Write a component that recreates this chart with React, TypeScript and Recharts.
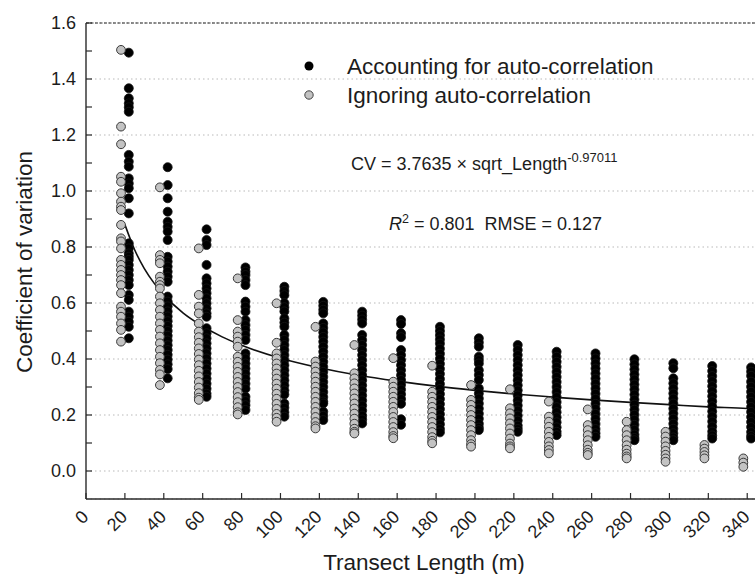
import React from 'react';
import {
  ComposedChart,
  Scatter,
  Line,
  XAxis,
  YAxis,
  CartesianGrid,
  ReferenceLine,
} from 'recharts';

// ---------- data ----------
const lengths = [20, 40, 60, 80, 100, 120, 140, 160, 180, 200, 220, 240, 260, 280, 300, 320, 340];

// Coefficient of variation, accounting for auto-correlation (black)
const accounting: number[][] = [
  [1.494, 1.367, 1.331, 1.313, 1.299, 1.283, 1.129, 1.105, 1.087, 1.045, 1.027, 1.010, 0.974, 0.920, 0.813, 0.795, 0.777, 0.765, 0.754, 0.736, 0.718, 0.700, 0.682, 0.664, 0.629, 0.611, 0.569, 0.551, 0.533, 0.515, 0.474],
  [1.085, 1.021, 0.974, 0.926, 0.890, 0.872, 0.855, 0.825, 0.765, 0.748, 0.730, 0.712, 0.694, 0.676, 0.623, 0.605, 0.588, 0.570, 0.552, 0.535, 0.518, 0.500, 0.483, 0.466, 0.449, 0.432, 0.415, 0.398, 0.381, 0.364, 0.331],
  [0.863, 0.825, 0.807, 0.736, 0.688, 0.670, 0.652, 0.635, 0.617, 0.599, 0.581, 0.563, 0.551, 0.510, 0.492, 0.474, 0.456, 0.438, 0.420, 0.402, 0.384, 0.366, 0.348, 0.330, 0.312, 0.294, 0.276, 0.265],
  [0.727, 0.712, 0.700, 0.682, 0.664, 0.605, 0.587, 0.569, 0.539, 0.521, 0.504, 0.486, 0.468, 0.420, 0.402, 0.384, 0.366, 0.348, 0.330, 0.312, 0.294, 0.265, 0.250, 0.235, 0.218],
  [0.658, 0.643, 0.628, 0.600, 0.585, 0.570, 0.545, 0.530, 0.515, 0.486, 0.468, 0.450, 0.432, 0.414, 0.396, 0.378, 0.360, 0.342, 0.324, 0.306, 0.288, 0.273, 0.241, 0.226, 0.210, 0.194],
  [0.604, 0.590, 0.576, 0.563, 0.527, 0.511, 0.495, 0.479, 0.462, 0.444, 0.426, 0.408, 0.390, 0.372, 0.354, 0.336, 0.318, 0.300, 0.282, 0.264, 0.248, 0.241, 0.212, 0.197, 0.182],
  [0.569, 0.555, 0.541, 0.527, 0.486, 0.468, 0.450, 0.432, 0.414, 0.396, 0.378, 0.360, 0.342, 0.324, 0.306, 0.288, 0.270, 0.252, 0.234, 0.216, 0.198, 0.184, 0.170],
  [0.539, 0.525, 0.492, 0.478, 0.432, 0.414, 0.396, 0.378, 0.360, 0.342, 0.325, 0.308, 0.291, 0.274, 0.257, 0.240, 0.185, 0.165],
  [0.515, 0.500, 0.485, 0.470, 0.455, 0.437, 0.419, 0.401, 0.383, 0.365, 0.347, 0.329, 0.311, 0.293, 0.275, 0.257, 0.239, 0.221, 0.203, 0.185, 0.167, 0.150, 0.138],
  [0.474, 0.459, 0.444, 0.408, 0.396, 0.384, 0.360, 0.343, 0.325, 0.295, 0.277, 0.259, 0.241, 0.223, 0.205, 0.187, 0.169, 0.155, 0.146],
  [0.450, 0.432, 0.414, 0.396, 0.378, 0.360, 0.342, 0.324, 0.306, 0.288, 0.270, 0.252, 0.234, 0.216, 0.198, 0.180, 0.162, 0.150, 0.140],
  [0.426, 0.408, 0.390, 0.372, 0.354, 0.336, 0.318, 0.300, 0.282, 0.264, 0.246, 0.228, 0.210, 0.192, 0.174, 0.156, 0.140, 0.128],
  [0.420, 0.402, 0.384, 0.366, 0.348, 0.330, 0.312, 0.294, 0.276, 0.258, 0.240, 0.222, 0.204, 0.186, 0.168, 0.150, 0.135, 0.122],
  [0.399, 0.381, 0.363, 0.345, 0.327, 0.309, 0.291, 0.273, 0.255, 0.237, 0.219, 0.201, 0.183, 0.165, 0.147, 0.130, 0.118, 0.110],
  [0.385, 0.367, 0.331, 0.313, 0.295, 0.277, 0.259, 0.241, 0.223, 0.205, 0.187, 0.169, 0.151, 0.135, 0.120, 0.110],
  [0.375, 0.357, 0.339, 0.321, 0.303, 0.285, 0.267, 0.249, 0.231, 0.213, 0.195, 0.177, 0.159, 0.141, 0.127, 0.116],
  [0.370, 0.355, 0.340, 0.319, 0.301, 0.283, 0.265, 0.247, 0.229, 0.211, 0.193, 0.175, 0.157, 0.139, 0.125, 0.116],
];

// Coefficient of variation, ignoring auto-correlation (grey)
const ignoring: number[][] = [
  [1.504, 1.230, 1.167, 1.051, 1.033, 0.992, 0.962, 0.944, 0.932, 0.879, 0.831, 0.820, 0.795, 0.754, 0.736, 0.718, 0.700, 0.682, 0.664, 0.635, 0.587, 0.569, 0.551, 0.527, 0.504, 0.462],
  [1.013, 0.771, 0.754, 0.742, 0.694, 0.676, 0.664, 0.652, 0.623, 0.599, 0.575, 0.551, 0.527, 0.504, 0.480, 0.456, 0.432, 0.408, 0.385, 0.361, 0.345, 0.307],
  [0.795, 0.629, 0.587, 0.563, 0.527, 0.498, 0.478, 0.458, 0.438, 0.418, 0.398, 0.378, 0.358, 0.338, 0.318, 0.298, 0.278, 0.262, 0.254],
  [0.688, 0.539, 0.498, 0.480, 0.462, 0.444, 0.408, 0.390, 0.372, 0.354, 0.336, 0.318, 0.300, 0.282, 0.264, 0.246, 0.228, 0.210, 0.202],
  [0.599, 0.458, 0.420, 0.402, 0.384, 0.366, 0.348, 0.330, 0.312, 0.294, 0.276, 0.258, 0.240, 0.222, 0.204, 0.190, 0.176],
  [0.515, 0.391, 0.373, 0.355, 0.337, 0.319, 0.301, 0.283, 0.265, 0.247, 0.229, 0.211, 0.193, 0.175, 0.160, 0.152],
  [0.450, 0.349, 0.331, 0.313, 0.295, 0.277, 0.259, 0.241, 0.223, 0.205, 0.187, 0.169, 0.151, 0.140, 0.134],
  [0.403, 0.319, 0.301, 0.283, 0.265, 0.247, 0.229, 0.211, 0.193, 0.175, 0.157, 0.139, 0.125, 0.117],
  [0.376, 0.283, 0.265, 0.247, 0.229, 0.211, 0.193, 0.175, 0.157, 0.139, 0.121, 0.108, 0.099],
  [0.307, 0.254, 0.236, 0.218, 0.200, 0.182, 0.164, 0.146, 0.128, 0.110, 0.096, 0.087],
  [0.292, 0.224, 0.206, 0.188, 0.170, 0.152, 0.134, 0.116, 0.098, 0.088, 0.081],
  [0.248, 0.194, 0.176, 0.158, 0.140, 0.122, 0.104, 0.088, 0.075, 0.063],
  [0.220, 0.164, 0.146, 0.128, 0.110, 0.092, 0.076, 0.065, 0.057],
  [0.176, 0.146, 0.128, 0.110, 0.092, 0.076, 0.062, 0.052, 0.045],
  [0.140, 0.123, 0.105, 0.088, 0.072, 0.058, 0.045, 0.033],
  [0.093, 0.080, 0.068, 0.056, 0.045],
  [0.045, 0.030, 0.015],
];

// fitted curve CV = 3.7635 x sqrt_Length^-0.97011
const fitLengths = [20, 25, 30, 35, 40, 50, 60, 70, 80, 100, 120, 140, 160, 180, 200, 220, 240, 260, 280, 300, 320, 340, 344];
const fitCV = [0.880, 0.790, 0.723, 0.671, 0.629, 0.564, 0.517, 0.479, 0.449, 0.403, 0.369, 0.342, 0.321, 0.303, 0.288, 0.275, 0.264, 0.254, 0.245, 0.237, 0.229, 0.223, 0.221];

const xTicks = [0, 20, 40, 60, 80, 100, 120, 140, 160, 180, 200, 220, 240, 260, 280, 300, 320, 340];
const yTicks = [0, 0.1, 0.2, 0.3, 0.4, 0.5, 0.6, 0.7, 0.8, 0.9, 1.0, 1.1, 1.2, 1.3, 1.4, 1.5, 1.6];
const gridValues = [0, 0.2, 0.4, 0.6, 0.8, 1.0, 1.2, 1.4];

const seriesNames = ['Accounting for auto-correlation', 'Ignoring auto-correlation'];

// ---------- derived tables ----------
const DODGE = 2;
const accountingPts = lengths.flatMap((L, i) => accounting[i].map((v) => ({ x: L + DODGE, y: v })));
const ignoringPts = lengths.flatMap((L, i) => ignoring[i].map((v) => ({ x: L - DODGE, y: v })));
const fitPts = fitLengths.map((L, i) => ({ x: L, y: fitCV[i] }));

// ---------- styles ----------
const FONT = "Arial, 'Liberation Sans', sans-serif";
const AXIS = '#2a2a2a';
const TEXT = '#1c1c1c';
const GREY = '#c3c3c3';
const TICK_FONT = 18;

const BlackDot = (p: any) => (
  <circle cx={p.cx} cy={p.cy} r={4.5} fill="#000" stroke="#151515" strokeWidth={0.8} />
);
const GreyDot = (p: any) => (
  <circle cx={p.cx} cy={p.cy} r={4.4} fill={GREY} stroke="#3a3a3a" strokeWidth={1} />
);

const YTick = (p: any) => {
  const { x, y, payload } = p;
  const v = payload.value as number;
  const major = Math.round(v * 10) % 2 === 0;
  return (
    <g>
      <line x1={x} y1={y} x2={x + 6} y2={y} stroke={AXIS} strokeWidth={1.2} />
      {major && (
        <text x={x - 10} y={y} dy="0.36em" textAnchor="end" fontSize={TICK_FONT} fontFamily={FONT} fill={TEXT}>
          {v.toFixed(1)}
        </text>
      )}
    </g>
  );
};

const XTick = (p: any) => {
  const { x, y, payload } = p;
  const tx = x + 3.5;
  const ty = y + 19;
  return (
    <g>
      <line x1={x} y1={y} x2={x} y2={y - 6} stroke={AXIS} strokeWidth={1.2} />
      <text
        x={tx}
        y={ty}
        textAnchor="end"
        transform={`rotate(-45 ${tx} ${ty})`}
        fontSize={TICK_FONT}
        fontFamily={FONT}
        fill={TEXT}
      >
        {payload.value}
      </text>
    </g>
  );
};

export default function App() {
  return (
    <div style={{ position: 'absolute', left: 0, top: 0, width: 755, height: 574, background: '#fff' }}>
      <ComposedChart
        width={755}
        height={574}
        margin={{ top: 23, right: 0, bottom: 0, left: 0 }}
      >
        <CartesianGrid
          vertical={false}
          yAxisId="grid"
          stroke="#b9b9b9"
          strokeDasharray="1.5 3"
        />
        <XAxis
          type="number"
          dataKey="x"
          domain={[0, 344]}
          ticks={xTicks}
          interval={0}
          height={75}
          tickSize={0}
          tickMargin={0}
          tickLine={false}
          axisLine={{ stroke: AXIS, strokeWidth: 1.4 }}
          tick={<XTick />}
          allowDataOverflow
        />
        <YAxis
          type="number"
          dataKey="y"
          domain={[-0.1, 1.6]}
          ticks={yTicks}
          interval={0}
          width={86}
          tickSize={0}
          tickMargin={0}
          tickLine={false}
          axisLine={{ stroke: AXIS, strokeWidth: 1.4 }}
          tick={<YTick />}
          allowDataOverflow
        />
        <YAxis
          yAxisId="grid"
          type="number"
          domain={[-0.1, 1.6]}
          ticks={gridValues}
          interval={0}
          hide
          allowDataOverflow
        />
        <ReferenceLine y={1.6} stroke={AXIS} strokeWidth={1.2} strokeDasharray="3 1.5" />
        <Scatter
          name={seriesNames[0]}
          data={accountingPts}
          dataKey="y"
          shape={BlackDot}
          isAnimationActive={false}
        />
        <Scatter
          name={seriesNames[1]}
          data={ignoringPts}
          dataKey="y"
          shape={GreyDot}
          isAnimationActive={false}
        />
        <Line
          data={fitPts}
          dataKey="y"
          type="monotone"
          stroke="#111"
          strokeWidth={1.6}
          dot={false}
          activeDot={false}
          isAnimationActive={false}
        />
      </ComposedChart>
      <svg
        width={755}
        height={574}
        style={{ position: 'absolute', left: 0, top: 0, pointerEvents: 'none' }}
      >
        <g fontFamily={FONT} fill={TEXT}>
          {/* legend */}
          <circle cx={309} cy={66} r={4.5} fill="#000" />
          <circle cx={309} cy={95} r={4.2} fill={GREY} stroke="#444" strokeWidth={1} />
          <text x={347} y={73.5} fontSize={22.5}>{seriesNames[0]}</text>
          <text x={347} y={102.5} fontSize={22.5}>{seriesNames[1]}</text>
          {/* equation */}
          <text x={351} y={170} fontSize={18}>
            CV = 3.7635 × sqrt_Length
            <tspan fontSize={13} dy={-8.5}>-0.97011</tspan>
          </text>
          <text x={389} y={230} fontSize={18}>
            <tspan fontStyle="italic">R</tspan>
            <tspan fontSize={12.5} dy={-7.5}>2</tspan>
            <tspan dy={7.5}>{' = 0.801\u00A0\u00A0RMSE = 0.127'}</tspan>
          </text>
          {/* axis titles */}
          <text x={424} y={570} fontSize={22.5} textAnchor="middle">Transect Length (m)</text>
          <text
            x={32}
            y={262}
            fontSize={22.5}
            textAnchor="middle"
            transform="rotate(-90 32 262)"
          >
            Coefficient of variation
          </text>
        </g>
      </svg>
    </div>
  );
}
